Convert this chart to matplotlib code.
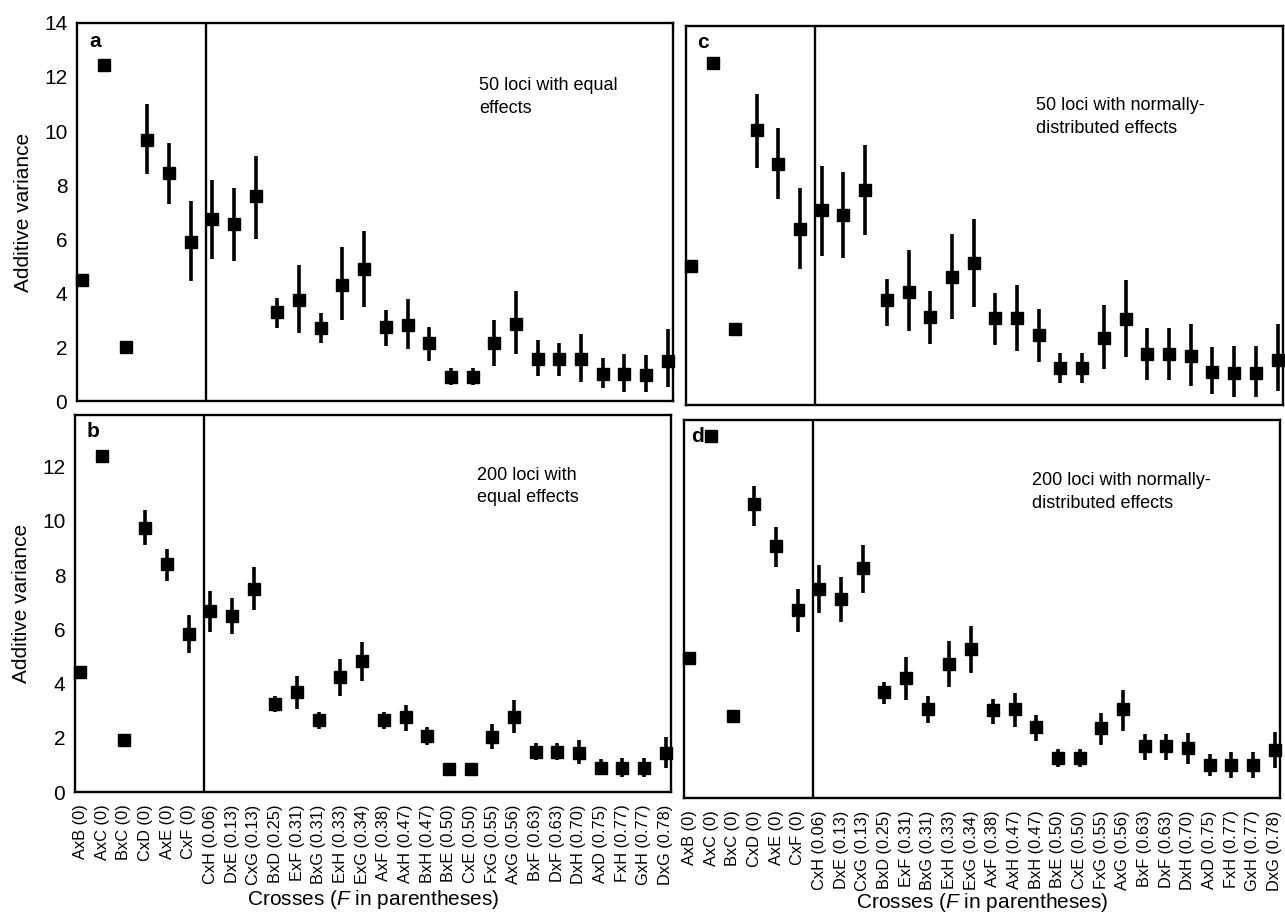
import numpy as np
import matplotlib
matplotlib.use("Agg")
import matplotlib.pyplot as plt

plt.rcParams['font.family'] = ['Liberation Sans', 'DejaVu Sans']
plt.rcParams['mathtext.fontset'] = 'custom'
plt.rcParams['mathtext.it'] = 'Liberation Sans:italic'
plt.rcParams['mathtext.rm'] = 'Liberation Sans'

# crosses, ordered by inbreeding coefficient F
crosses = ["AxB", "AxC", "BxC", "CxD", "AxE", "CxF", "CxH", "DxE", "CxG", "BxD",
           "ExF", "BxG", "ExH", "ExG", "AxF", "AxH", "BxH", "BxE", "CxE", "FxG",
           "AxG", "BxF", "DxF", "DxH", "AxD", "FxH", "GxH", "DxG"]
f_values = ["0", "0", "0", "0", "0", "0", "0.06", "0.13", "0.13", "0.25",
            "0.31", "0.31", "0.33", "0.34", "0.38", "0.47", "0.47", "0.50", "0.50", "0.55",
            "0.56", "0.63", "0.63", "0.70", "0.75", "0.77", "0.77", "0.78"]

# a: 50 loci, equal effects
a_mean = [4.5, 12.45, 2.0, 9.65, 8.45, 5.9, 6.75, 6.55, 7.6, 3.3, 3.75, 2.7, 4.3, 4.9,
          2.75, 2.8, 2.15, 0.9, 0.9, 2.15, 2.85, 1.57, 1.57, 1.55, 1.0, 1.0, 0.97, 1.5]
a_lo = [4.5, 12.45, 2.0, 8.4, 7.3, 4.45, 5.25, 5.2, 6.0, 2.7, 2.52, 2.13, 3.0, 3.5,
        2.05, 1.92, 1.5, 0.6, 0.6, 1.3, 1.73, 0.93, 0.92, 0.7, 0.47, 0.35, 0.32, 0.53]
a_hi = [4.5, 12.45, 2.0, 11.0, 9.57, 7.42, 8.2, 7.9, 9.08, 3.81, 5.04, 3.27, 5.7, 6.3,
        3.36, 3.76, 2.75, 1.21, 1.21, 3.0, 4.06, 2.25, 2.15, 2.47, 1.6, 1.73, 1.7, 2.65]

# b: 200 loci, equal effects
b_mean = [4.43, 12.4, 1.93, 9.75, 8.4, 5.82, 6.67, 6.5, 7.5, 3.26, 3.69, 2.65, 4.24, 4.82,
          2.67, 2.75, 2.07, 0.83, 0.83, 2.03, 2.77, 1.48, 1.48, 1.45, 0.9, 0.9, 0.9, 1.45]
b_lo = [4.43, 12.4, 1.93, 9.1, 7.79, 5.11, 5.9, 5.81, 6.7, 2.95, 3.05, 2.31, 3.54, 4.1,
        2.34, 2.25, 1.72, 0.7, 0.7, 1.6, 2.19, 1.17, 1.17, 1.02, 0.62, 0.55, 0.55, 0.9]
b_hi = [4.43, 12.4, 1.93, 10.4, 8.96, 6.52, 7.42, 7.14, 8.3, 3.53, 4.28, 2.95, 4.9, 5.54,
        2.95, 3.22, 2.4, 0.96, 0.96, 2.49, 3.41, 1.81, 1.81, 1.93, 1.23, 1.25, 1.25, 2.03]

# c: 50 loci, normally-distributed effects
c_mean = [5.1, 12.55, 2.8, 10.1, 8.85, 6.45, 7.15, 6.95, 7.9, 3.85, 4.15, 3.22, 4.68, 5.2,
          3.18, 3.18, 2.55, 1.35, 1.35, 2.45, 3.14, 1.87, 1.87, 1.78, 1.2, 1.17, 1.17, 1.64]
c_lo = [5.1, 12.55, 2.8, 8.68, 7.54, 4.99, 5.48, 5.39, 6.22, 2.89, 2.71, 2.22, 3.14, 3.6,
        2.19, 1.99, 1.56, 0.8, 0.8, 1.33, 1.75, 0.92, 0.92, 0.71, 0.41, 0.31, 0.31, 0.53]
c_hi = [5.1, 12.55, 2.8, 11.39, 10.16, 7.97, 8.78, 8.56, 9.54, 4.62, 5.7, 4.19, 6.28, 6.83,
        4.1, 4.4, 3.53, 1.91, 1.91, 3.67, 4.58, 2.83, 2.81, 2.96, 2.13, 2.18, 2.15, 2.96]

# d: 200 loci, normally-distributed effects
d_mean = [5.15, 13.3, 3.0, 10.8, 9.25, 6.9, 7.7, 7.3, 8.45, 3.9, 4.43, 3.28, 4.94, 5.47,
          3.22, 3.26, 2.61, 1.48, 1.48, 2.56, 3.26, 1.9, 1.9, 1.85, 1.23, 1.2, 1.2, 1.75]
d_lo = [5.15, 13.3, 3.0, 10.02, 8.51, 6.09, 6.79, 6.46, 7.54, 3.44, 3.6, 2.77, 4.07, 4.58,
        2.73, 2.61, 2.09, 1.13, 1.13, 1.94, 2.48, 1.41, 1.41, 1.25, 0.82, 0.74, 0.74, 1.11]
d_hi = [5.15, 13.3, 3.0, 11.46, 9.96, 7.69, 8.55, 8.14, 9.32, 4.28, 5.19, 3.75, 5.78, 6.33,
        3.65, 3.85, 3.05, 1.81, 1.81, 3.14, 3.97, 2.34, 2.34, 2.4, 1.63, 1.7, 1.7, 2.44]

panels = [
    ("a", a_mean, a_lo, a_hi, "50 loci with equal\neffects", (18.3, 12.0)),
    ("b", b_mean, b_lo, b_hi, "200 loci with\nequal effects", (18.3, 12.0)),
    ("c", c_mean, c_lo, c_hi, "50 loci with normally-\ndistributed effects", (15.85, 11.3)),
    ("d", d_mean, d_lo, d_hi, "200 loci with normally-\ndistributed effects", (15.8, 12.0)),
]
letter_x = {"a": 0.3, "b": 0.3, "c": 0.25, "d": 0.1}

W, H = 1285, 913
# axes boxes in pixels: left, right, top, bottom
boxes = {"a": (77, 673, 23, 401), "b": (75, 671, 415, 792),
         "c": (686, 1283, 26, 405), "d": (684, 1280, 420, 798)}
# x-axis title centres in pixels
xlabel_pos = {"b": (373, 899), "d": (982, 902)}

fig = plt.figure(figsize=(W / 100, H / 100), dpi=100)
x = np.arange(len(crosses))
tick_labels = [f"{c} ({f})" for c, f in zip(crosses, f_values)]

for name, mean, lo, hi, note, note_xy in panels:
    l, r, t, b = boxes[name]
    ax = fig.add_axes([l / W, 1 - b / H, (r - l) / W, (b - t) / H])
    mean = np.array(mean)
    yerr = [mean - np.array(lo), np.array(hi) - mean]
    ax.errorbar(x, mean, yerr=yerr, fmt='s', color='black', ms=8,
                elinewidth=2.6, capsize=0, clip_on=False)
    ax.axvline(5.7, color='black', lw=1.7)
    ax.set_xlim(-0.25, 27.25)
    ax.set_ylim(0, 14 if name == "a" else 13.9)
    for sp in ax.spines.values():
        sp.set_linewidth(1.7)
    ax.tick_params(length=0, labelsize=15, pad=7)
    ax.text(letter_x[name], 13.3, name, fontsize=15, fontweight='bold', va='center', ha='left')
    ax.text(note_xy[0], note_xy[1], note, fontsize=13, va='top', ha='left', linespacing=1.45)

    if name in ("a", "b"):
        ax.set_yticks(range(0, 15, 2) if name == "a" else range(0, 13, 2))
        ax.set_ylabel("Additive variance", fontsize=15, labelpad=8)
    else:
        ax.set_yticks([])
    if name in ("b", "d"):
        ax.set_xticks(x)
        ax.set_xticklabels(tick_labels, rotation=90, fontsize=11.8)
        ax.tick_params(axis='x', pad=9)
        px, py = xlabel_pos[name]
        fig.text(px / W, 1 - py / H, "Crosses ($\\it{F}$ in parentheses)",
                 fontsize=15, ha='center', va='center')
    else:
        ax.set_xticks([])

fig.savefig("out.png", dpi=100)
